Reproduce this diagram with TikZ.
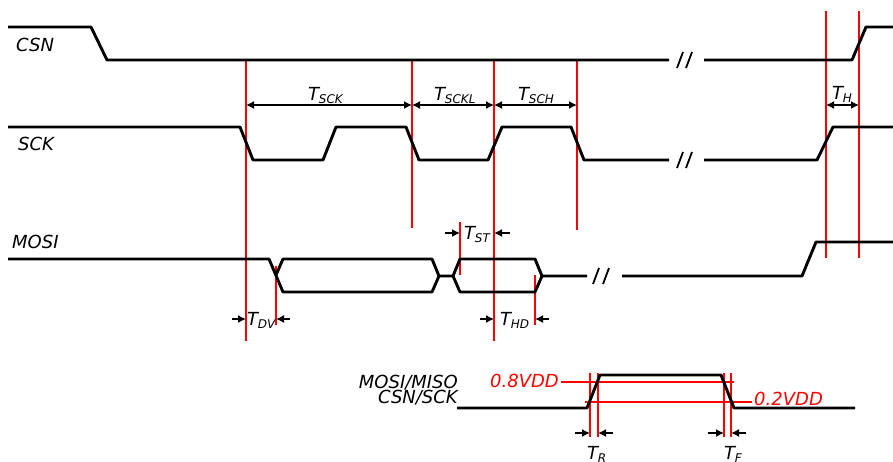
\documentclass[tikz,border=0pt]{standalone}
\usepackage{fontspec}
\setmainfont{DejaVu Sans}
\usetikzlibrary{arrows.meta}
\newcommand\Tsub[1]{T\kern-0.3pt\raisebox{-0.35ex}{\fontsize{12}{13}\selectfont #1}}
\begin{document}
\begin{tikzpicture}[x=1pt,y=-1pt,
  sig/.style={line width=2.9pt, line join=round},
  brk/.style={line width=1.8pt},
  redl/.style={draw=red, line width=1.2pt},
  dim/.style={line width=1.4pt, {Latex[length=8pt,width=8pt]}-{Latex[length=8pt,width=8pt]}},
  pt/.style={line width=1.4pt, -{Latex[length=8pt,width=8pt]}},
  lab/.style={font=\fontsize{18}{20}\selectfont\itshape, inner sep=0pt},
  rlab/.style={lab, text=red}]
\useasboundingbox (0,0) rectangle (893,461);
\clip (0,0) rectangle (893,461);

% red vertical markers
\draw[redl] (246,60) -- (246,341);
\draw[redl] (412,60) -- (412,228);
\draw[redl] (494,60) -- (494,341);
\draw[redl] (577,60) -- (577,230);
\draw[redl] (826,11) -- (826,258);
\draw[redl] (859,11) -- (859,258);
\draw[redl] (276,266) -- (276,325);
\draw[redl] (460,222) -- (460,275);
\draw[redl] (535,275) -- (535,325);

% CSN
\draw[sig] (8,27) -- (91,27) -- (107,60) -- (669,60);
\draw[sig] (704,60) -- (852,60) -- (866,27) -- (893,27);
\draw[brk] (677,68) -- (683,52) (686,68) -- (692,52);

% SCK
\draw[sig] (8,127) -- (240,127) -- (253,160) -- (323,160) -- (336,127) -- (406,127)
  -- (419,160) -- (488,160) -- (502,127) -- (571,127) -- (584,160) -- (669,160);
\draw[sig] (704,160) -- (817,160) -- (833,127) -- (893,127);
\draw[brk] (677,168) -- (683,152) (686,168) -- (692,152);

% MOSI
\draw[sig] (8,259) -- (269,259) -- (283,292) -- (432,292) -- (439,276) -- (453,276)
  -- (460,292) -- (535,292) -- (542,276) -- (587,276);
\draw[sig] (276,275) -- (283,259) -- (432,259) -- (439,276);
\draw[sig] (453,276) -- (460,259) -- (535,259) -- (542,276);
\draw[sig] (622,276) -- (802,276) -- (816,242) -- (893,242);
\draw[brk] (593,284) -- (599,268) (603,284) -- (609,268);

% signal labels
\node[lab, anchor=base west] (csn) at (16,51) {CSN};
\node[lab, anchor=base west] (sck) at (18,150) {SCK};
\node[lab, anchor=base west] (mosi) at (12,248) {MOSI};

% dimension arrows
\coordinate (a1) at (246,105);
\coordinate (a2) at (412,105);
\coordinate (a3) at (494,105);
\coordinate (a4) at (577,105);
\coordinate (h1) at (826,105);
\coordinate (h2) at (859,105);
\draw[dim] (a1) -- (a2);
\draw[dim] (a2) -- (a3);
\draw[dim] (a3) -- (a4);
\draw[dim] (h1) -- (h2);
\node[lab, anchor=base west] (tsck) at (308,100) {\Tsub{SCK}};
\node[lab, anchor=base west] (tsckl) at (434,100) {\Tsub{SCKL}};
\node[lab, anchor=base west] (tsch) at (518,100) {\Tsub{SCH}};
\node[lab, anchor=base west] (th) at (832,99) {\Tsub{H}};

% TDV
\coordinate (dv0) at (232,319); \coordinate (dv1) at (246,319);
\coordinate (dv2) at (276,319); \coordinate (dv3) at (290,319);
\draw[pt] (dv0) -- (dv1);
\draw[pt] (dv3) -- (dv2);
\node[lab, anchor=base west] (tdv) at (247,325) {\Tsub{DV}};

% TST
\coordinate (st0) at (445,233); \coordinate (st1) at (460,233);
\coordinate (st2) at (494,233); \coordinate (st3) at (510,233);
\draw[pt] (st0) -- (st1);
\draw[pt] (st3) -- (st2);
\node[lab, anchor=base west] (tst) at (464,239) {\Tsub{ST}};

% THD
\coordinate (hd0) at (480,319); \coordinate (hd1) at (494,319);
\coordinate (hd2) at (535,319); \coordinate (hd3) at (549,319);
\draw[pt] (hd0) -- (hd1);
\draw[pt] (hd3) -- (hd2);
\node[lab, anchor=base west] (thd) at (500,325) {\Tsub{HD}};

% bottom: rise/fall definition
\draw[redl] (561,382) -- (734,382);
\draw[redl] (585,402) -- (752,402);
\draw[redl] (590,373) -- (590,437);
\draw[redl] (598,373) -- (598,437);
\draw[redl] (724,373) -- (724,437);
\draw[redl] (731,373) -- (731,437);
\draw[sig] (457,408) -- (587,408) -- (600,375) -- (721,375) -- (734,408) -- (855,408);
\node[lab, anchor=base east] (mm) at (458,388) {MOSI/MISO};
\node[lab, anchor=base east] (cs) at (458,403) {CSN/SCK};
\node[rlab, anchor=base east] (v8) at (559,387) {0.8VDD};
\node[rlab, anchor=base west] (v2) at (754,405) {0.2VDD};

\coordinate (r0) at (575,433); \coordinate (r1) at (590,433);
\coordinate (r2) at (598,433); \coordinate (r3) at (613,433);
\draw[pt] (r0) -- (r1);
\draw[pt] (r3) -- (r2);
\coordinate (f0) at (708,433); \coordinate (f1) at (724,433);
\coordinate (f2) at (731,433); \coordinate (f3) at (746,433);
\draw[pt] (f0) -- (f1);
\draw[pt] (f3) -- (f2);
\node[lab, anchor=base west] (tr) at (587,459) {\Tsub{R}};
\node[lab, anchor=base west] (tf) at (724,459) {\Tsub{F}};
\end{tikzpicture}
\end{document}
